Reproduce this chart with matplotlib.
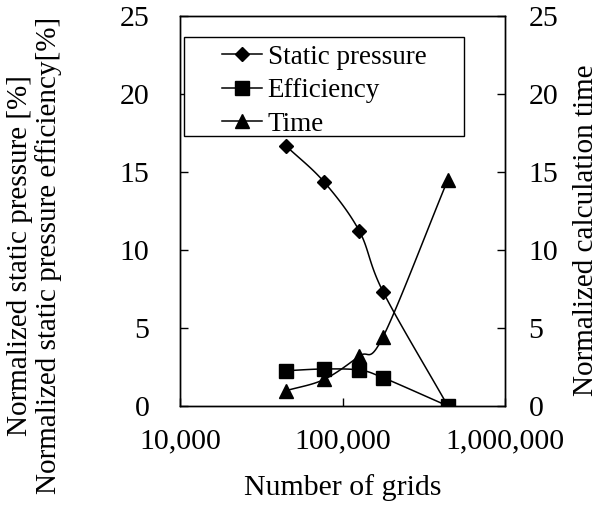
import matplotlib
matplotlib.use("Agg")
import numpy as np
import matplotlib.pyplot as plt
from matplotlib.patches import Rectangle

plt.rcParams['font.family'] = ['Liberation Serif', 'DejaVu Serif']

grids = [45000, 77000, 127000, 178000, 445000]
static_pressure = [16.65, 14.35, 11.2, 7.3, 0.0]
efficiency = [2.26, 2.37, 2.3, 1.81, 0.0]
calc_time = [0.98, 1.7, 3.2, 4.45, 14.5]


def smooth(xs, ys, n=30):
    # catmull-rom through the points, in log-x space (like Excel smoothed lines)
    lx = np.log10(xs)
    ys = np.asarray(ys, float)
    px = np.concatenate([[2 * lx[0] - lx[1]], lx, [2 * lx[-1] - lx[-2]]])
    py = np.concatenate([[2 * ys[0] - ys[1]], ys, [2 * ys[-1] - ys[-2]]])
    ox, oy = [], []
    t = np.linspace(0, 1, n)
    for i in range(1, len(px) - 2):
        for arr, out in ((px, ox), (py, oy)):
            p0, p1, p2, p3 = arr[i - 1:i + 3]
            c = 0.5 * ((2 * p1) + (-p0 + p2) * t + (2 * p0 - 5 * p1 + 4 * p2 - p3) * t ** 2
                       + (-p0 + 3 * p1 - 3 * p2 + p3) * t ** 3)
            out.extend(c)
    return 10 ** np.array(ox), np.array(oy)


fig = plt.figure(figsize=(6.0, 5.11), dpi=100)
ax = fig.add_axes([0.30, 0.2055, 0.5417, 0.7638])
ax2 = ax.twinx()

series = [
    ("Static pressure", static_pressure, "D", 7.5),
    ("Efficiency", efficiency, "s", 9.5),
    ("Time", calc_time, "^", 9.5),
]
handles = []
for label, vals, mk, ms in series:
    sx, sy = smooth(grids, vals)
    target = ax2 if label == "Time" else ax
    target.plot(sx, sy, color="black", lw=1.1)
    target.plot(grids, vals, ls="none", marker=mk, ms=ms, color="black")
    h, = ax.plot([], [], color="black", lw=1.1, marker=mk, ms=ms)
    handles.append(h)

ax.set_xscale("log")
ax.set_xlim(1e4, 1e6)
ax.set_xticks([1e4, 1e5, 1e6])
ax.set_xticklabels(["10,000", "100,000", "1,000,000"])
ax.xaxis.set_minor_locator(matplotlib.ticker.NullLocator())
for a in (ax, ax2):
    a.set_ylim(0, 25)
    a.set_yticks([0, 5, 10, 15, 20, 25])
ax.tick_params(axis="both", direction="in", length=6, width=1, labelsize=21.5)
ax.tick_params(axis="y", pad=22)
ax.tick_params(axis="x", pad=16)
ax2.tick_params(axis="y", direction="in", length=6, width=1, labelsize=21.5, pad=17)
for a in (ax, ax2):
    for s in a.spines.values():
        s.set_linewidth(1.0)

ax.set_xlabel("Number of grids", fontsize=21.5, labelpad=14)
fig.text(0.058, 0.5, "Normalized static pressure [%]\nNormalized static pressure efficiency[%]",
         rotation=90, ha="center", va="center", fontsize=21, linespacing=1.1)
fig.text(0.977, 0.55, "Normalized calculation time", rotation=90, ha="center", va="center",
         fontsize=21)

# legend frame drawn separately so the entries can sit indented like the original
ax2.add_patch(Rectangle((0.012, 0.692), 0.862, 0.253, transform=ax.transAxes,
                        facecolor="white", edgecolor="black", lw=1.0, zorder=4))
leg = ax2.legend(handles, [s[0] for s in series], loc="upper left",
                 bbox_to_anchor=(0.128, 0.925), bbox_transform=ax.transAxes,
                 fontsize=19.5, frameon=False, borderaxespad=0, borderpad=0,
                 handlelength=1.5, handletextpad=0.2, labelspacing=0.31)
leg.set_zorder(5)

fig.savefig("out.png", dpi=100)
